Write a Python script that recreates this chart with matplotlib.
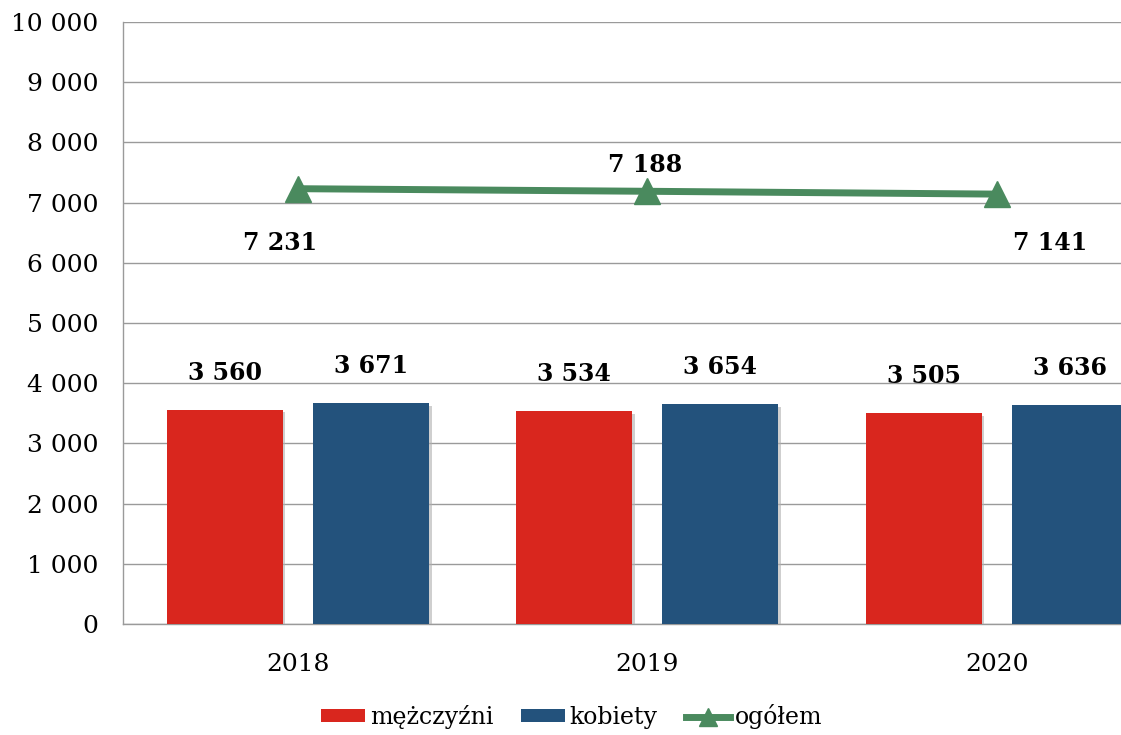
import matplotlib
matplotlib.use("Agg")
from matplotlib import pyplot as plt
from matplotlib import patheffects as pe
from matplotlib.lines import Line2D
from matplotlib.patches import Patch
import numpy as np

plt.rcParams["font.family"] = "DejaVu Serif"

years = ["2018", "2019", "2020"]
men = [3560, 3534, 3505]
women = [3671, 3654, 3636]
total = [7231, 7188, 7141]

RED = "#d9261e"
BLUE = "#23527c"
GREEN = "#4a8a5e"
GRID = "#9a9a9a"


def fmt(v):
    return f"{v:,}".replace(",", " ")


fig = plt.figure(figsize=(11.21, 7.35), dpi=100)
ax = fig.add_axes([123 / 1121, 111 / 735, 1048.5 / 1121, 602 / 735])

x = np.arange(len(years))
width = 0.332
offset = 0.209
shadow = [pe.SimplePatchShadow(offset=(2, -2), shadow_rgbFace="#b0b0b0", alpha=0.6), pe.Normal()]

bars_m = ax.bar(x - offset, men, width=width, color=RED, zorder=3, path_effects=shadow)
bars_w = ax.bar(x + offset, women, width=width, color=BLUE, zorder=3, path_effects=shadow)

for bars, vals in ((bars_m, men), (bars_w, women)):
    for b, v in zip(bars, vals):
        ax.annotate(fmt(v), (b.get_x() + b.get_width() / 2, v),
                    xytext=(0, 37), textcoords="offset pixels",
                    ha="center", va="center", fontsize=17, fontweight="bold", zorder=5)

ax.plot(x, total, color=GREEN, lw=5, marker="^", markersize=19, zorder=4,
        solid_capstyle="round")

total_offsets = [(-18, -54), (-2, 26), (53, -49)]
for xi, v, off in zip(x, total, total_offsets):
    ax.annotate(fmt(v), (xi, v), xytext=off, textcoords="offset pixels",
                ha="center", va="center", fontsize=17, fontweight="bold", zorder=5)

ax.set_xlim(-0.5, 2.5)
ax.set_ylim(0, 10000)
ax.set_yticks(np.arange(0, 10001, 1000))
ax.set_yticklabels([fmt(v) for v in range(0, 10001, 1000)], fontsize=18)
ax.set_xticks(x)
ax.set_xticklabels(years, fontsize=18)
ax.tick_params(axis="both", length=0)
ax.tick_params(axis="y", pad=18)
ax.tick_params(axis="x", pad=21)
ax.grid(axis="y", color=GRID, lw=1, zorder=0)
for s in ("top", "right"):
    ax.spines[s].set_visible(False)
for s in ("left", "bottom"):
    ax.spines[s].set_color(GRID)
    ax.spines[s].set_linewidth(1)

handles = [
    Patch(facecolor=RED, label="mężczyźni"),
    Patch(facecolor=BLUE, label="kobiety"),
    Line2D([0], [0], color=GREEN, lw=5, marker="^", markersize=13, label="ogółem"),
]
fig.legend(handles=handles, loc="center", bbox_to_anchor=(0.51, 0.025), ncol=3,
           frameon=False, fontsize=17, handlelength=1.85, handleheight=0.5,
           handletextpad=0.2, columnspacing=1.2, borderpad=0)

fig.savefig("out.png", dpi=100)
